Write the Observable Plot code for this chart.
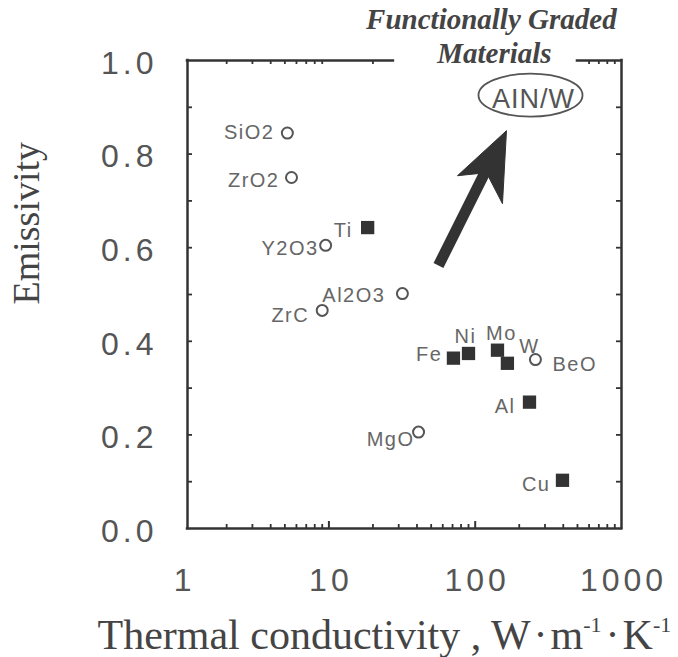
<!DOCTYPE html>
<html>
<head>
<meta charset="utf-8">
<script src="https://cdn.jsdelivr.net/npm/d3@7"></script>
<script src="https://cdn.jsdelivr.net/npm/@observablehq/plot@0.6"></script>
<style>
  html, body { margin: 0; padding: 0; background: #fff; }
  g[aria-description="x tick labels"] text, g[aria-description="y tick labels"] text { letter-spacing: 4px; }
  g[aria-description="point label"] text { letter-spacing: 1.5px; }
  g[aria-description="aln label"] text { letter-spacing: 1px; }
</style>
</head>
<body>
<div id="chart"></div>
<script>
// ---- data ----
const materials    = ["SiO2", "ZrO2", "Y2O3", "Ti", "Al2O3", "ZrC", "Fe", "Ni", "Mo", "W", "BeO", "Al", "MgO", "Cu"];
const conductivity = [5.2, 5.55, 9.5, 18.4, 31.8, 9.0, 71, 90, 142, 166, 258, 235, 41, 395];
const emissivity   = [0.845, 0.75, 0.605, 0.643, 0.502, 0.466, 0.364, 0.374, 0.381, 0.353, 0.361, 0.27, 0.206, 0.103];
const kind         = ["ceramic", "ceramic", "ceramic", "metal", "ceramic", "ceramic", "metal", "metal", "metal", "metal", "ceramic", "metal", "ceramic", "metal"];

const xTickLabels = [1, 10, 100, 1000];
const yTickLabels = [0.0, 0.2, 0.4, 0.6, 0.8, 1.0];
const xMinorTicks = [2, 3, 4, 5, 6, 7, 8, 9, 20, 30, 40, 50, 60, 70, 80, 90, 200, 300, 400, 500, 600, 700, 800, 900];
const xMajorTicks = [10, 100];
const yMinorTicks = [0.1, 0.2, 0.3, 0.4, 0.5, 0.6, 0.7, 0.8, 0.9];

const xDomain = [1.08, 1000];
const yDomain = [0, 1];

// top frame is interrupted by the "Functionally Graded Materials" title
const topSegments = [{x1: 1.08, x2: 27.6}, {x1: 500, x2: 1000}];

// annotations (data coordinates)
const titleLines = ["Functionally Graded", "Materials"];
const titleX = [129];
const alnLabel = [{x: 250, y: 0.918, text: "AIN/W"}];
const alnEllipse = [{x: 238.8, y: 0.926}];
const arrowShaft = [{x1: 56.1, y1: 0.562, x2: 127, y2: 0.784}];
const arrowTip = [{x: 163.6, y: 0.85}];

// label placement (pixels)
const labelLayout = {
  SiO2:  {dx: -13, dy: 0,   anchor: "end"},
  ZrO2:  {dx: -12, dy: 3,   anchor: "end"},
  Y2O3:  {dx: -7,  dy: 3,   anchor: "end"},
  Ti:    {dx: -15, dy: 3,   anchor: "end"},
  Al2O3: {dx: -17, dy: 2,   anchor: "end"},
  ZrC:   {dx: -13, dy: 5,   anchor: "end"},
  Fe:    {dx: -11, dy: -4,  anchor: "end"},
  Ni:    {dx: -3,  dy: -17, anchor: "middle"},
  Mo:    {dx: 4,   dy: -17, anchor: "middle"},
  W:     {dx: 22,  dy: -17, anchor: "middle"},
  BeO:   {dx: 17,  dy: 5,   anchor: "start"},
  Al:    {dx: -14, dy: 4,   anchor: "end"},
  MgO:   {dx: -4,  dy: 8,   anchor: "end"},
  Cu:    {dx: -12, dy: 4,   anchor: "end"}
};

const points = materials.map((name, i) => ({name, k: conductivity[i], e: emissivity[i], kind: kind[i]}));

// ---- layout ----
const W = 678, H = 657;
const mL = 187, mR = 57, mT = 60, mB = 129;
const plotW = W - mL - mR, plotH = H - mT - mB;
const frameColor = "#333";
const sans = "Liberation Sans, Arial, sans-serif";
const serif = "Liberation Serif, Times New Roman, serif";

// tick lengths converted from pixels to data units
const yTickLen = (v) => v / plotH * (yDomain[1] - yDomain[0]);
const xTickFrac = (v) => v / plotW;
const logSpan = Math.log10(xDomain[1] / xDomain[0]);
const xAt = (frac) => xDomain[0] * Math.pow(10, frac * logSpan);
const inTop = v => topSegments.some(s => v > s.x1 && v < s.x2);

const ellipseSymbol = {
  draw(ctx) {
    const a = 52, b = 21.5, k = 0.5523;
    ctx.moveTo(a, 0);
    ctx.bezierCurveTo(a, b * k, a * k, b, 0, b);
    ctx.bezierCurveTo(-a * k, b, -a, b * k, -a, 0);
    ctx.bezierCurveTo(-a, -b * k, -a * k, -b, 0, -b);
    ctx.bezierCurveTo(a * k, -b, a, -b * k, a, 0);
    ctx.closePath();
  }
};
const arrowHeadSymbol = {
  draw(ctx) {
    ctx.moveTo(0, 0);
    ctx.lineTo(-49, 45);
    ctx.lineTo(-20, 42);
    ctx.lineTo(-4, 73);
    ctx.closePath();
  }
};

const labelMarks = points.map(d => {
  const L = labelLayout[d.name];
  return Plot.text([d], {
    x: "k", y: "e", text: "name",
    dx: L.dx, dy: L.dy, textAnchor: L.anchor, lineAnchor: "middle",
    fontFamily: sans, fontSize: 20, fill: "#666", ariaDescription: "point label"
  });
});

const tickStyle = {stroke: frameColor, strokeWidth: 1.8};

const chart = Plot.plot({
  width: W, height: H,
  marginLeft: mL, marginRight: mR, marginTop: mT, marginBottom: mB,
  style: {background: "white", fontFamily: sans, overflow: "visible"},
  x: {type: "log", domain: xDomain, axis: null},
  y: {domain: yDomain, axis: null},
  marks: [
    // inward ticks, bottom
    Plot.ruleX(xMinorTicks, {x: d => d, y1: yDomain[0], y2: yDomain[0] + yTickLen(4), ...tickStyle}),
    Plot.ruleX(xMajorTicks, {x: d => d, y1: yDomain[0], y2: yDomain[0] + yTickLen(7), ...tickStyle, strokeWidth: 2}),
    // inward ticks, top (only where the frame is drawn)
    Plot.ruleX(xMinorTicks.filter(inTop), {x: d => d, y1: yDomain[1], y2: yDomain[1] - yTickLen(4), ...tickStyle}),
    // inward ticks, left & right
    Plot.ruleY(yMinorTicks, {y: d => d, x1: xDomain[0], x2: xAt(xTickFrac(5)), ...tickStyle}),
    Plot.ruleY(yMinorTicks, {y: d => d, x1: xAt(1 - xTickFrac(5)), x2: xDomain[1], ...tickStyle}),
    // frame
    Plot.ruleX([xDomain[0], xDomain[1]], {stroke: frameColor, strokeWidth: 2.5, strokeLinecap: "square"}),
    Plot.ruleY([yDomain[0]], {stroke: frameColor, strokeWidth: 2.5, strokeLinecap: "square"}),
    Plot.ruleY(topSegments, {y: () => yDomain[1], x1: "x1", x2: "x2", stroke: frameColor, strokeWidth: 2.5, strokeLinecap: "square"}),
    // tick labels
    Plot.text(yTickLabels, {
      y: d => d, text: d => d.toFixed(1), frameAnchor: "left", textAnchor: "end",
      dx: -30, dy: 3, lineAnchor: "middle", fontFamily: sans, fontSize: 32, fill: "#555", ariaDescription: "y tick labels"
    }),
    Plot.text(xTickLabels, {
      x: d => d, text: d => String(d), frameAnchor: "bottom", dx: 2, dy: 52,
      lineAnchor: "middle", fontFamily: sans, fontSize: 32, fill: "#555", ariaDescription: "x tick labels"
    }),
    // axis titles
    Plot.text(["Emissivity"], {
      frameAnchor: "left", dx: 26.5 - mL, dy: 10, rotate: -90, lineAnchor: "middle",
      fontFamily: serif, fontSize: 38, fill: "#444", ariaDescription: "y title"
    }),
    Plot.text(["Thermal conductivity , W·m-1·K-1"], {
      frameAnchor: "bottom-left", textAnchor: "start", dx: 97 - mL, dy: 107, lineAnchor: "middle",
      fontFamily: serif, fontSize: 42, fill: "#444", ariaDescription: "x title"
    }),
    // annotation title
    Plot.text(titleX, {x: d => d, text: () => titleLines[0], frameAnchor: "top", dy: -41, lineAnchor: "middle",
      fontFamily: serif, fontSize: 29, fontWeight: "bold", fontStyle: "italic", fill: "#444"}),
    Plot.text(titleX, {x: d => d, text: () => titleLines[1], frameAnchor: "top", dx: 3, dy: -7, lineAnchor: "middle",
      fontFamily: serif, fontSize: 29, fontWeight: "bold", fontStyle: "italic", fill: "#444"}),
    // AlN/W ellipse + label
    Plot.dot(alnEllipse, {x: "x", y: "y", symbol: ellipseSymbol, r: 10, fill: "none", stroke: "#555", strokeWidth: 1.8}),
    Plot.text(alnLabel, {x: "x", y: "y", text: "text", lineAnchor: "middle", fontFamily: sans, fontSize: 27, fill: "#555", ariaDescription: "aln label"}),
    // arrow
    Plot.link(arrowShaft, {x1: "x1", y1: "y1", x2: "x2", y2: "y2", stroke: "#333", strokeWidth: 11}),
    Plot.dot(arrowTip, {x: "x", y: "y", symbol: arrowHeadSymbol, r: 10, fill: "#333", stroke: "#333", strokeWidth: 1}),
    // data points
    Plot.dot(points.filter(d => d.kind === "ceramic"), {x: "k", y: "e", r: 5.5, fill: "white", stroke: "#555", strokeWidth: 2}),
    Plot.dot(points.filter(d => d.kind === "metal"), {x: "k", y: "e", symbol: "square", r: 7.5, fill: "#333", stroke: "none"}),
    ...labelMarks
  ]
});

document.getElementById("chart").appendChild(chart);

// superscripts in the x-axis title
const xt = chart.querySelector('g[aria-description="x title"] text');
if (xt) {
  const ns = "http://www.w3.org/2000/svg";
  xt.textContent = "";
  const parts = [
    {t: "Thermal conductivity , W"},
    {t: "·", dx: 3},
    {t: "m", dx: 3},
    {t: "-1", sup: true},
    {t: "·", dx: 4, down: true},
    {t: "K", dx: 3},
    {t: "-1", sup: true}
  ];
  for (const p of parts) {
    const ts = document.createElementNS(ns, "tspan");
    ts.textContent = p.t;
    if (p.dx) ts.setAttribute("dx", p.dx);
    if (p.sup) { ts.setAttribute("dy", -17); ts.setAttribute("font-size", 22); }
    if (p.down) ts.setAttribute("dy", 17);
    xt.appendChild(ts);
  }
}
</script>
</body>
</html>
